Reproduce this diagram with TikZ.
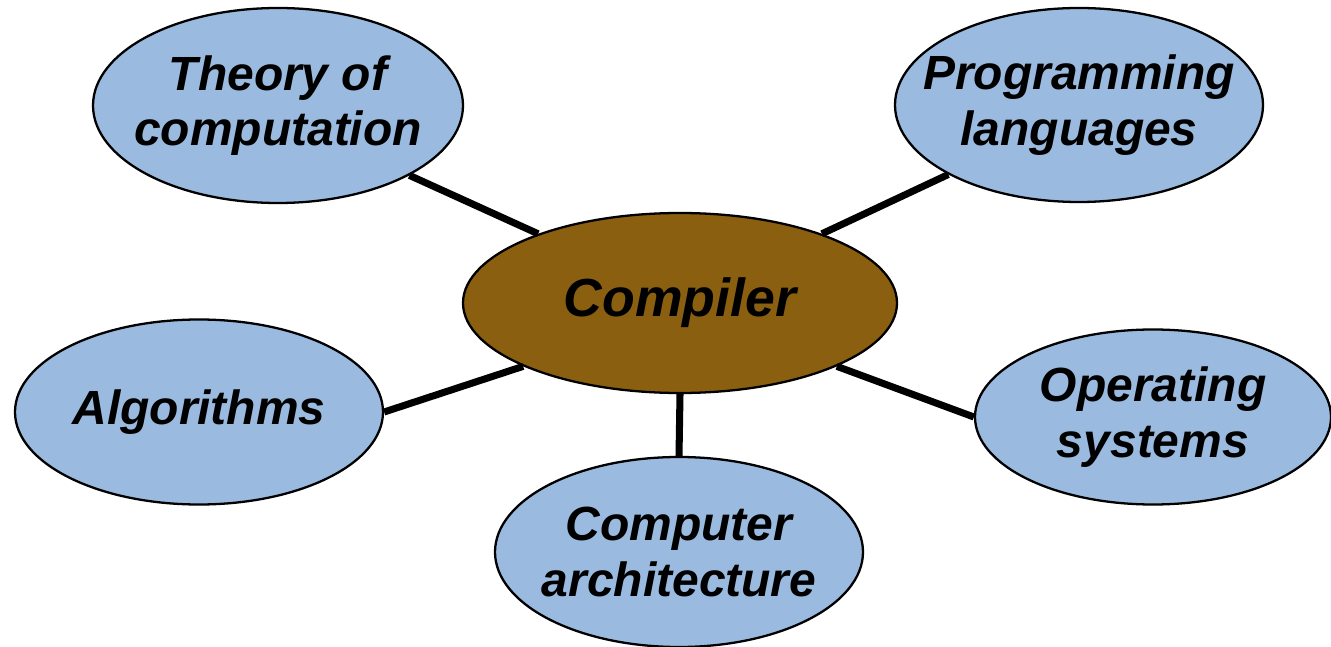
\documentclass[tikz,border=0pt]{standalone}
\usepackage{fontspec}
\setmainfont{Liberation Sans}
\usepackage{xcolor}
\usepackage{tikz}
\usetikzlibrary{shapes.geometric}
\definecolor{topicfill}{HTML}{9ABBDF}
\definecolor{corefill}{HTML}{8B5F10}
\tikzset{
  topic/.style={
    ellipse,
    draw=black,
    line width=1.3pt,
    fill=topicfill,
    align=center,
    inner sep=-3cm,
    font=\fontsize{27.3}{31.5}\selectfont\bfseries\itshape
  },
  core/.style={topic, fill=corefill, font=\fontsize{30.5}{34}\selectfont\bfseries\itshape},
  link/.style={line width=4pt, draw=black}
}

\begin{document}
\begin{tikzpicture}[x=1cm,y=1cm]
\path[use as bounding box] (0,0) rectangle (26.62,-12.94);

\node[core, minimum width=8.68cm, minimum height=3.6cm] (compiler) at (13.6,-6.06) {Compiler};

\node[topic, minimum width=7.4cm, minimum height=3.9cm] (theory) at (5.56,-2.11) {Theory of\\computation};
\node[topic, minimum width=7.36cm, minimum height=3.88cm] (proglang) at (21.58,-2.1) {Programming\\languages};
\node[topic, minimum width=7.36cm, minimum height=3.7cm] (algo) at (3.98,-8.24) {Algorithms};
\node[topic, minimum width=7.12cm, minimum height=3.5cm] (opsys) at (23.06,-8.34) {Operating\\systems};
\node[topic, minimum width=7.36cm, minimum height=3.8cm] (arch) at (13.58,-11.04) {Computer\\architecture};

\draw[link] (theory.-28) -- (compiler.154);
\draw[link] (proglang.-152) -- (compiler.26);
\draw[link] (algo.east) -- (compiler.-158);
\draw[link] (opsys.west) -- (compiler.-22);
\draw[link] (arch.north) -- (compiler.south);
\end{tikzpicture}
\end{document}
